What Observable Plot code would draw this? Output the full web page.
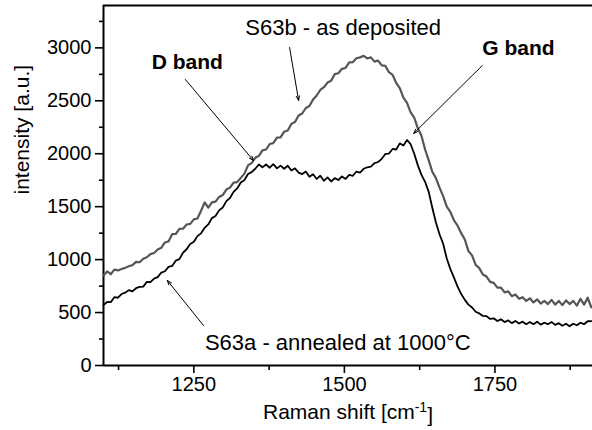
<!DOCTYPE html>
<html><head><meta charset="utf-8">
<script src="https://cdn.jsdelivr.net/npm/d3@7"></script>
<script src="https://cdn.jsdelivr.net/npm/@observablehq/plot@0.6"></script>
<style>html,body{margin:0;padding:0;background:#fff}svg{display:block}</style>
</head><body><div id="chart"></div>
<script>
// Raman shift grid (cm^-1), one sample every 6 cm^-1
const shift = d3.range(1100, 1911, 6);

// S63a - annealed at 1000°C (black)
const annealed = [
 570,600,598,645,640,675,688,712,700,730,
 742,745,790,788,820,835,878,890,932,940,
 990,1005,1065,1098,1148,1168,1222,1248,1300,1332,
 1392,1412,1465,1492,1552,1582,1640,1672,1728,1752,
 1808,1826,1858,1898,1872,1898,1868,1902,1862,1888,
 1858,1886,1842,1862,1822,1808,1832,1782,1806,1762,
 1792,1744,1776,1738,1770,1752,1786,1762,1800,1792,
 1832,1822,1858,1872,1878,1912,1922,1952,1998,2002,
 2045,2040,2098,2078,2130,2090,2000,1890,1800,1735,
 1640,1490,1350,1240,1150,1010,910,830,745,675,
 620,575,548,508,492,468,466,440,446,420,
 436,410,426,400,420,396,414,390,410,390,
 414,386,404,390,410,384,400,376,394,370,
 394,380,404,390,418,420
];

// S63b - as deposited (grey)
const deposited = [
 850,888,862,905,898,912,922,938,948,978,
 975,1008,1022,1052,1062,1095,1112,1162,1172,1240,
 1242,1290,1292,1332,1338,1380,1388,1462,1540,1492,
 1540,1548,1592,1610,1662,1680,1728,1732,1772,1812,
 1890,1912,1962,1980,2032,2040,2092,2100,2152,2155,
 2208,2220,2282,2300,2362,2380,2432,2450,2512,2550,
 2602,2628,2672,2690,2752,2760,2802,2810,2862,2865,
 2902,2910,2925,2900,2910,2870,2880,2835,2830,2770,
 2745,2670,2620,2530,2480,2390,2340,2240,2170,2040,
 1940,1830,1770,1680,1600,1500,1450,1370,1320,1250,
 1190,1080,1040,950,920,860,840,790,780,735,
 735,690,700,655,670,630,645,610,635,595,
 625,585,610,580,620,575,610,570,615,580,
 610,565,630,575,640,550
];

const xMajorTicks = [1250, 1500, 1750];
const xMinorTicks = [1125, 1375, 1625, 1875];
const yMajorTicks = [0, 500, 1000, 1500, 2000, 2500, 3000];
const yMinorTicks = [250, 750, 1250, 1750, 2250, 2750, 3250];

const noteText = ["S63b - as deposited", "D band", "G band", "S63a - annealed at 1000°C"];
const noteX = [1498, 1239, 1789, 1489];
const noteY = [3192, 2862, 2994, 217];
const noteWeight = ["normal", "bold", "bold", "normal"];

const arrowX1 = [1409, 1236, 1729, 1266];
const arrowY1 = [3003, 2701, 2833, 378];
const arrowX2 = [1424, 1349, 1615, 1206];
const arrowY2 = [2503, 1936, 2191, 803];

const xLabel = "Raman shift [cm-1]";
const yLabel = "intensity [a.u.]";

const lineA = shift.map((x, i) => ({x, y: annealed[i]})).filter(d => d.y != null);
const lineB = shift.map((x, i) => ({x, y: deposited[i]})).filter(d => d.y != null);
const notes = noteText.map((t, i) => ({t, x: noteX[i], y: noteY[i], w: noteWeight[i]}));
const arrows = arrowX1.map((x1, i) => ({x1, y1: arrowY1[i], x2: arrowX2[i], y2: arrowY2[i]}));

const font = "'Liberation Sans', Arial, sans-serif";

const chart = Plot.plot({
  width: 592, height: 430,
  marginLeft: 103, marginRight: 0, marginTop: 5, marginBottom: 65,
  style: {fontFamily: font, color: "#000", background: "#fff", overflow: "visible"},
  x: {domain: [1100, 1912]},
  y: {domain: [0, 3400]},
  marks: [
    Plot.axisX({ticks: xMajorTicks, tickSize: 8, tickPadding: 3, fontSize: 20, label: null, strokeWidth: 1.6, tickFormat: d => String(d)}),
    Plot.axisX({ticks: xMinorTicks, tickSize: 5, fontSize: 1, label: null, strokeWidth: 1.6, tickFormat: () => ""}),
    Plot.axisY({ticks: yMajorTicks, tickSize: 8, tickPadding: 4, fontSize: 20, label: null, strokeWidth: 1.6, tickFormat: d => String(d)}),
    Plot.axisY({ticks: yMinorTicks, tickSize: 4, fontSize: 1, label: null, strokeWidth: 1.6, tickFormat: () => ""}),
    Plot.ruleX([1100], {stroke: "#000", strokeWidth: 2}),
    Plot.ruleY([0, 3400], {stroke: "#000", strokeWidth: 2}),
    Plot.line(lineB, {x: "x", y: "y", stroke: "#565656", strokeWidth: 2.2, strokeLinejoin: "round"}),
    Plot.line(lineA, {x: "x", y: "y", stroke: "#000", strokeWidth: 1.8, strokeLinejoin: "round"}),
    Plot.arrow(arrows, {x1: "x1", y1: "y1", x2: "x2", y2: "y2", stroke: "#000", strokeWidth: 1, headLength: 7, headAngle: 40}),
    Plot.text(notes.filter(d => d.w === "normal"), {x: "x", y: "y", text: "t", fontSize: 22, fill: "#000"}),
    Plot.text(notes.filter(d => d.w === "bold"), {x: "x", y: "y", text: "t", fontSize: 21, fontWeight: "bold", fill: "#000"}),
    Plot.text([xLabel], {frameAnchor: "bottom", dy: 53, text: d => d, fontSize: 21, fill: "#000"}),
    Plot.text([yLabel], {frameAnchor: "left", dx: -81, dy: 9, rotate: -90, text: d => d, fontSize: 21, fill: "#000"})
  ]
});

// superscript for cm^-1
d3.select(chart).selectAll("text").each(function() {
  if (this.textContent === xLabel) {
    const t = d3.select(this);
    t.text(null);
    t.append("tspan").text("Raman shift [cm");
    t.append("tspan").attr("dy", "-0.45em").attr("font-size", "14px").text("-1");
    t.append("tspan").attr("dy", "0.45em").text("]");
  }
});

document.getElementById("chart").appendChild(chart);
</script>
</body></html>
